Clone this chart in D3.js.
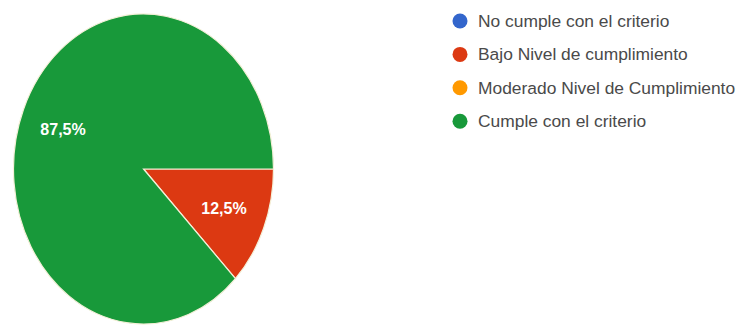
<!DOCTYPE html>
<html>
<head>
<meta charset="utf-8">
<script src="https://cdn.jsdelivr.net/npm/d3@7"></script>
<style>
  html, body { margin: 0; padding: 0; background: #ffffff; }
  svg { display: block; }
</style>
</head>
<body>
<svg id="chart" width="739" height="325"></svg>
<script>
// Response categories and their shares (percent)
const categories = [
  "No cumple con el criterio",
  "Bajo Nivel de cumplimiento",
  "Moderado Nivel de Cumplimiento",
  "Cumple con el criterio"
];
const values = [0, 12.5, 0, 87.5];
const colors = ["#3366cc", "#dc3912", "#ff9900", "#18993a"];

const svg = d3.select("#chart");

// Pie geometry: the disc is drawn taller than wide
const cx = 143.5, cy = 169, rx = 130, ry = 155;
const sy = ry / rx;

const pie = d3.pie()
  .sort(null)
  .value(d => d.value)
  .startAngle(Math.PI / 2)
  .endAngle(Math.PI / 2 + 2 * Math.PI);

const data = categories.map((c, i) => ({ name: c, value: values[i], color: colors[i] }));
const arcs = pie(data).filter(a => a.data.value > 0);

const arc = d3.arc().innerRadius(0).outerRadius(rx);
const labelArc = d3.arc().innerRadius(rx * 0.67).outerRadius(rx * 0.67);

const pieG = svg.append("g")
  .attr("transform", `translate(${cx},${cy}) scale(1,${sy})`);

pieG.selectAll("path")
  .data(arcs)
  .join("path")
  .attr("d", arc)
  .attr("fill", d => d.data.color)
  .attr("stroke", "#f4f0d8")
  .attr("stroke-width", 1.2)
  .attr("vector-effect", "non-scaling-stroke");

// Percentage labels placed on the slice mid-angle
const fmt = v => d3.format(".1f")(v).replace(".", ",") + "%";
svg.append("g")
  .selectAll("text")
  .data(arcs)
  .join("text")
  .attr("x", d => cx + labelArc.centroid(d)[0])
  .attr("y", d => cy + labelArc.centroid(d)[1] * sy)
  .attr("text-anchor", "middle")
  .attr("dominant-baseline", "central")
  .attr("fill", "#ffffff")
  .attr("font-family", "'Liberation Sans', Arial, sans-serif")
  .attr("font-weight", "bold")
  .attr("font-size", 16)
  .text(d => fmt(d.data.value));

// Legend
const legendX = 460, legendY0 = 21, legendStep = 33.4;
const legend = svg.append("g")
  .selectAll("g")
  .data(data)
  .join("g")
  .attr("transform", (d, i) => `translate(${legendX},${legendY0 + i * legendStep})`);

legend.append("circle")
  .attr("r", 7.5)
  .attr("fill", d => d.color);

legend.append("text")
  .attr("x", 18)
  .attr("dominant-baseline", "central")
  .attr("fill", "#4a4a4a")
  .attr("font-family", "'Liberation Sans', Arial, sans-serif")
  .attr("font-size", 17.4)
  .text(d => d.name);
</script>
</body>
</html>
